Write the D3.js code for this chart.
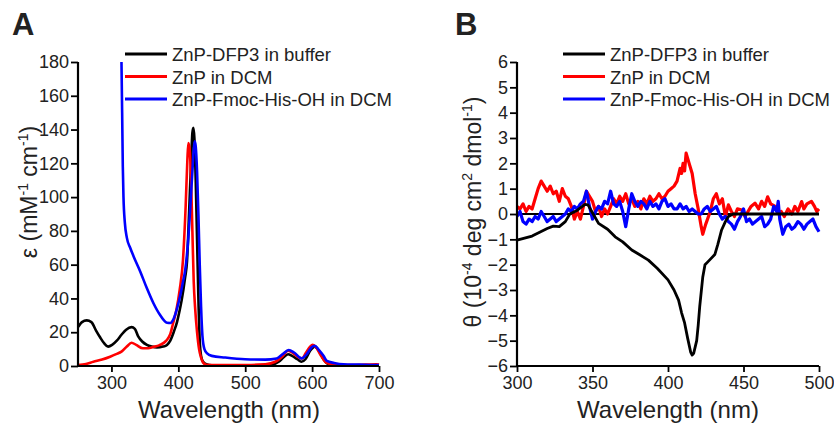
<!DOCTYPE html>
<html>
<head>
	<script src="https://cdn.jsdelivr.net/npm/d3@7/dist/d3.min.js"></script>
	<style>
		body { margin: 0; background: white; }
		text { font-family: "Liberation Sans", Arial, sans-serif; fill: #222; }
	</style>
</head>
<body>
	<script>

		// ---------- data ----------
		var seriesNames = ["ZnP-DFP3 in buffer", "ZnP in DCM", "ZnP-Fmoc-His-OH in DCM"];
		var seriesColors = ["#000000", "#ff0000", "#0000ff"];

		// panel A: absorbance, [nm, epsilon]
		var absBuffer = [[250,23],[256,26],[263,27],[270,26],[277,21],[283,17],[289,13.5],[295,11.5],[301,12.5],[308,15],[315,18.5],[322,21.5],[330,23],[335,22],[340,17.5],[346,14.5],[353,12.5],[360,11.5],[368,11],[377,11.5],[383,12.5],[388,15],[393,20],[398,26],[402,33],[405,39],[410,52],[413,62],[416,90],[419,120],[421,138],[422.5,141],[424,135],[426,110],[428,75],[430,40],[432,15],[434,6],[437,2.5],[442,1],[450,0.4],[500,0.3],[540,0.8],[550,2.5],[557,5],[564,7],[570,6],[578,4],[584,2.5],[590,4],[597,9],[604,11.5],[610,9],[617,4],[625,1],[640,0.3],[700,0.2]];
		var absZnP = [[250,0.5],[262,1.2],[273,2.5],[286,3.8],[298,5.5],[307,7],[315,8.5],[323,11.5],[330,13.8],[337,12.5],[347,10.5],[355,10.5],[362,11.2],[372,12.4],[382,15],[388,19],[392,25],[397,33],[402,45],[407,63],[411,95],[413.5,122],[415,132],[417,128],[419,110],[421,80],[423,50],[425,35],[428,20],[431,10],[434,5],[437,2],[442,0.7],[460,0.5],[500,0.6],[530,1],[545,2.5],[555,5.5],[564,9],[572,7.5],[580,5],[585,4.5],[591,8],[597,11.5],[601,12.5],[606,11],[612,7],[621,2],[630,1],[646,0.5],[680,0.8],[696,1],[700,0.8]];
		var absFmoc = [[315,180],[316,150],[317,118],[318,100],[320,85],[323,76],[328,70],[333,65],[343,56],[353,46],[363,37],[373,30],[383,25.6],[388,25.5],[393,28],[398,34],[403,42],[407,50],[410,56],[415,76],[418,95],[421,115],[423,128],[424.5,133],[426,130],[428,115],[430,90],[432,60],[434,35],[436,18],[439,10],[443,7.5],[450,6],[470,5],[500,4],[530,3.8],[547,4.5],[556,7],[565,9.5],[573,8],[584,4.5],[592,7],[599,11],[604,12],[610,9.5],[617,6],[622,3],[633,1.8],[647,1],[670,0.8],[696,0.5],[700,0.5]];

		// panel B: circular dichroism, [nm, theta]
		var cdBuffer = [[300,-1.03],[305,-0.95],[310,-0.87],[315,-0.72],[320,-0.57],[324,-0.48],[328,-0.5],[332,-0.3],[335,0],[340,0.15],[345,0.38],[347,0.36],[350,0.05],[354,-0.37],[360,-0.6],[365,-0.9],[370,-1.1],[376,-1.42],[381,-1.6],[387,-1.82],[393,-2.15],[400,-2.6],[404,-3.0],[407,-3.4],[409,-3.9],[411,-4.3],[413,-4.9],[415,-5.45],[416,-5.57],[417,-5.5],[419,-5.0],[420,-4.4],[421,-3.66],[423,-2.5],[424.5,-2.0],[427,-1.85],[431,-1.6],[433,-1.2],[435.5,-0.63],[438,-0.3],[440,-0.1],[443,0],[500,0]];
		var cdZnP = [[300,0.3],[302,0.2],[304,0.4],[306,0.1],[308,0.3],[310,0.2],[312,0.6],[314,1.0],[316,1.3],[318,1.1],[320,0.9],[322,1.1],[324,0.8],[326,0.9],[328,0.5],[330,1.0],[332,0.7],[334,0.6],[336,0.3],[338,-0.2],[340,0.1],[342,-0.2],[344,0.3],[346,0.9],[348,0.7],[350,0.5],[352,0.1],[354,0.3],[356,-0.1],[358,0.2],[360,0.0],[362,0.3],[364,0.6],[366,0.4],[368,0.7],[370,0.5],[372,0.8],[374,0.4],[376,0.6],[378,0.3],[380,0.5],[382,0.2],[384,0.6],[386,0.4],[388,0.7],[390,0.5],[392,0.6],[394,0.8],[396,0.6],[398,0.7],[400,0.9],[402,1.0],[404,1.1],[406,1.3],[408,1.8],[409,1.6],[410,2.0],[411,1.7],[412,2.4],[414,2.0],[416,1.6],[418,0.8],[420,0.2],[422,-0.5],[423,-0.8],[425,-0.4],[428,0.1],[430,0.6],[432,0.8],[434,0.4],[436,0.6],[438,-0.1],[440,0.36],[442,0.1],[444,-0.1],[446,0.2],[449,0.16],[451,-0.1],[453,0.1],[455,0.3],[457.6,0.43],[460,0.2],[462,0.5],[464,0.3],[466,0.68],[468,0.4],[471,0.3],[473,0.05],[475,0.1],[477,-0.1],[479.5,0.2],[482,0.0],[484,0.3],[486,0.1],[488.5,0.49],[490,0.2],[492,0.4],[495,0.5],[497,0.3],[498.5,0.1],[500,0.2]];
		var cdFmoc = [[300,-0.1],[302,0.1],[304,-0.3],[306,-0.4],[308,-0.2],[310,-0.3],[312,-0.1],[314,-0.2],[316,0.1],[318,-0.1],[320,-0.3],[322,-0.2],[324,-0.1],[326,-0.3],[328,-0.2],[330,-0.1],[332,0.0],[334,0.2],[336,0.1],[338,0.3],[340,0.2],[342,0.4],[344,0.5],[346,0.9],[348,0.3],[350,-0.2],[352,0.1],[354,0.3],[356,0.2],[358,0.5],[360,0.4],[362,0.9],[364,0.4],[366,0.3],[368,0.5],[370,0.1],[372,-0.5],[374,0.2],[376,0.8],[378,0.5],[380,0.3],[382,0.5],[384,0.4],[386,0.2],[388,0.5],[390,0.3],[392,0.4],[394,0.2],[396,0.5],[398,0.6],[400,0.3],[402,0.4],[404,0.2],[406,0.2],[408,0.4],[410,0.2],[412,0.3],[414,0.1],[416,0.2],[418,0.1],[420,0.0],[422,0.0],[424,0.2],[426,0.3],[428,0.1],[430,0.2],[432,0.3],[434,0.0],[436,-0.2],[438,-0.1],[440,-0.3],[442,-0.4],[444,-0.6],[446,-0.3],[448,-0.1],[450,0.2],[452,-0.3],[454,-0.2],[456,-0.4],[458,-0.3],[460,-0.2],[462,-0.1],[464,-0.5],[466,-0.4],[468,-0.2],[470,0.3],[472,0.1],[473,0.5],[474,-0.2],[476,-0.8],[478,-0.5],[480,-0.4],[482,-0.6],[484,-0.5],[486,-0.3],[488,-0.4],[490,-0.6],[492,-0.4],[494,-0.3],[496,-0.2],[498,-0.5],[500,-0.7]];

		var ticksA_x = [300, 400, 500, 600, 700];
		var ticksA_y = [0, 20, 40, 60, 80, 100, 120, 140, 160, 180];
		var ticksB_x = [300, 350, 400, 450, 500];
		var ticksB_y = [-6, -5, -4, -3, -2, -1, 0, 1, 2, 3, 4, 5, 6];

		// ---------- layout ----------
		var width = 834, height = 423;

		var svg = d3.select("body").append("svg")
			.attr("width", width)
			.attr("height", height);

		function drawAxes(g, x, y, xMajor, xMinorStep, yMajor, yMinorStep) {
			var xd = x.domain(), yd = y.domain();
			var xMinor = d3.range(xd[0], xd[1] + 0.001, xMinorStep);
			var yMinor = d3.range(yd[0], yd[1] + 0.001, yMinorStep);

			var y0 = y.range()[0], x0 = x.range()[0];

			var gx = g.append("g").attr("transform", "translate(0," + y0 + ")");
			gx.call(d3.axisBottom(x).tickValues(xMinor).tickSize(4).tickFormat(""));
			gx.call(d3.axisBottom(x).tickValues(xMajor).tickSize(6).tickPadding(4).tickFormat(d3.format("d")));

			var gy = g.append("g").attr("transform", "translate(" + x0 + ",0)");
			gy.call(d3.axisLeft(y).tickValues(yMinor).tickSize(4).tickFormat(""));
			gy.call(d3.axisLeft(y).tickValues(yMajor).tickSize(7).tickPadding(2).tickFormat(d3.format("d")));

			g.selectAll(".domain").attr("stroke", "#000").attr("stroke-width", 2.2);
			g.selectAll(".tick line").attr("stroke", "#000").attr("stroke-width", 1.8);
			g.selectAll(".tick text")
				.style("font-family", "'Liberation Sans', Arial, sans-serif")
				.style("font-size", "18px")
				.attr("fill", "#222");
			gx.selectAll(".domain").attr("d", "M" + x.range()[0] + ",0H" + x.range()[1]);
			gy.selectAll(".domain").attr("d", "M0," + y.range()[0] + "V" + y.range()[1]);
		}

		function drawLegend(g, x0, y0) {
			seriesNames.forEach(function(name, i) {
				var yy = y0 + i * 22.5;
				g.append("line")
					.attr("x1", x0).attr("x2", x0 + 42)
					.attr("y1", yy).attr("y2", yy)
					.attr("stroke", seriesColors[i])
					.attr("stroke-width", 3);
				g.append("text")
					.attr("x", x0 + 47).attr("y", yy + 7)
					.style("font-size", "18.5px")
					.text(name);
			});
		}

		// ---------- panel A ----------
		var xA = d3.scaleLinear().domain([250, 700]).range([78, 379]);
		var yA = d3.scaleLinear().domain([0, 180]).range([366, 62]);
		var gA = svg.append("g");

		var lineA = d3.line()
			.x(function(d) { return xA(d[0]); })
			.y(function(d) { return yA(d[1]); })
			.curve(d3.curveMonotoneX);

		[absBuffer, absZnP, absFmoc].forEach(function(s, i) {
			gA.append("path")
				.datum(s)
				.attr("d", lineA)
				.attr("fill", "none")
				.attr("stroke", seriesColors[i])
				.attr("stroke-width", 2.6)
				.attr("stroke-linejoin", "round");
		});

		drawAxes(gA, xA, yA, ticksA_x, 50, ticksA_y, 10);
		drawLegend(gA, 125, 54);

		gA.append("text")
			.attr("x", 229).attr("y", 418)
			.attr("text-anchor", "middle")
			.style("font-size", "24px")
			.text("Wavelength (nm)");

		var tA = gA.append("text")
			.attr("transform", "translate(37,192) rotate(-90)")
			.attr("text-anchor", "middle")
			.style("font-size", "23px");
		tA.append("tspan").text("ε (mM");
		tA.append("tspan").attr("dy", -9).style("font-size", "14px").text("-1");
		tA.append("tspan").attr("dy", 9).text(" cm");
		tA.append("tspan").attr("dy", -9).style("font-size", "14px").text("-1");
		tA.append("tspan").attr("dy", 9).text(")");

		gA.append("text")
			.attr("x", 12).attr("y", 35)
			.style("font-size", "31px")
			.style("font-weight", "bold")
			.text("A");

		// ---------- panel B ----------
		var xB = d3.scaleLinear().domain([300, 500]).range([517, 819]);
		var yB = d3.scaleLinear().domain([-6, 6]).range([366, 62]);
		var gB = svg.append("g");

		var lineB = d3.line()
			.x(function(d) { return xB(d[0]); })
			.y(function(d) { return yB(d[1]); });

		gB.append("line")
			.attr("x1", xB(300)).attr("x2", xB(500))
			.attr("y1", yB(0)).attr("y2", yB(0))
			.attr("stroke", "#000").attr("stroke-width", 2);

		[cdZnP, cdFmoc, cdBuffer].forEach(function(s, j) {
			var i = [1, 2, 0][j];
			gB.append("path")
				.datum(s)
				.attr("d", lineB)
				.attr("fill", "none")
				.attr("stroke", seriesColors[i])
				.attr("stroke-width", i === 0 ? 2.8 : 3.2)
				.attr("stroke-linejoin", "round");
		});

		drawAxes(gB, xB, yB, ticksB_x, 25, ticksB_y, 0.5);
		drawLegend(gB, 563, 54);

		gB.append("text")
			.attr("x", 668).attr("y", 418)
			.attr("text-anchor", "middle")
			.style("font-size", "24px")
			.text("Wavelength (nm)");

		var tB = gB.append("text")
			.attr("transform", "translate(481,212) rotate(-90)")
			.attr("text-anchor", "middle")
			.style("font-size", "23px");
		tB.append("tspan").text("θ (10");
		tB.append("tspan").attr("dy", -9).style("font-size", "14px").text("-4");
		tB.append("tspan").attr("dy", 9).text(" deg cm");
		tB.append("tspan").attr("dy", -9).style("font-size", "14px").text("2");
		tB.append("tspan").attr("dy", 9).text(" dmol");
		tB.append("tspan").attr("dy", -9).style("font-size", "14px").text("-1");
		tB.append("tspan").attr("dy", 9).text(")");

		gB.append("text")
			.attr("x", 455).attr("y", 35)
			.style("font-size", "31px")
			.style("font-weight", "bold")
			.text("B");

	</script>
</body>
</html>
